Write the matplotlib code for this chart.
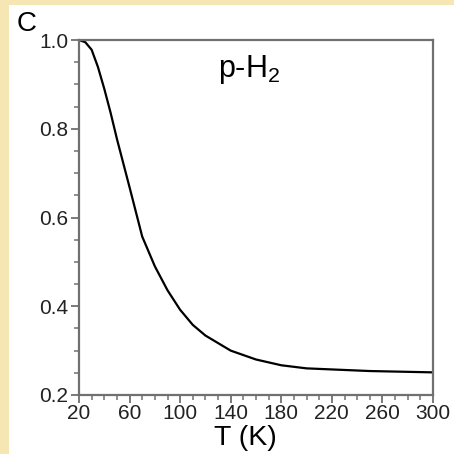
import matplotlib
matplotlib.use("Agg")
import matplotlib.pyplot as plt
from matplotlib.patches import Rectangle
from matplotlib.ticker import MultipleLocator

plt.rcParams['font.family'] = ['Liberation Sans', 'DejaVu Sans']
plt.rcParams['mathtext.default'] = 'regular'

# equilibrium para-hydrogen fraction
temps = [20, 25, 30, 35, 40, 45, 50, 60, 70, 80, 90, 100, 110, 120,
         140, 160, 180, 200, 250, 300]
conc = [1.0, 0.995, 0.978, 0.939, 0.89, 0.836, 0.777, 0.668, 0.557, 0.49, 0.436,
        0.392, 0.358, 0.334, 0.300, 0.280, 0.267, 0.260, 0.254, 0.251]

x_ticks = [20, 60, 100, 140, 180, 220, 260, 300]
y_ticks = [0.2, 0.4, 0.6, 0.8, 1.0]

fig = plt.figure(figsize=(4.54, 4.54), dpi=100)
fig.patch.set_facecolor('#f6e6b4')
# white panel behind the plot
fig.patches.append(Rectangle((9 / 454, 0), 1, 1 - 5 / 454, transform=fig.transFigure,
                             facecolor='white', edgecolor='none', zorder=-5))

ax = fig.add_axes([79 / 454, 1 - 395 / 454, 354 / 454, 355 / 454])
ax.set_zorder(2)
ax.set_facecolor('white')
ax.plot(temps, conc, color='black', lw=1.6)

ax.set_xlim(20, 300)
ax.set_ylim(0.2, 1.0)
ax.set_xticks(x_ticks)
ax.set_yticks(y_ticks)
ax.set_yticklabels([f"{v:.1f}" for v in y_ticks])
ax.xaxis.set_minor_locator(MultipleLocator(10))
ax.yaxis.set_minor_locator(MultipleLocator(0.05))

for sp in ax.spines.values():
    sp.set_color('#707070')
    sp.set_linewidth(1.6)

ax.tick_params(which='major', direction='out', length=6, width=1.3, color='#707070',
               labelsize=15, labelcolor='#222222', pad=0.5)
ax.tick_params(which='minor', direction='out', length=3.5, width=1.1, color='#707070')
ax.tick_params(axis='y', pad=1.5)

ax.text(0.393, 0.896, 'p-H$_2$', transform=ax.transAxes, fontsize=22,
        ha='left', va='baseline')

fig.text(27 / 454, 1 - 24 / 454, 'C', fontsize=20, ha='center', va='center')
fig.text(245 / 454, 1 - 438 / 454, 'T (K)', fontsize=20.5, ha='center', va='center')

fig.savefig('out.png', dpi=100)
